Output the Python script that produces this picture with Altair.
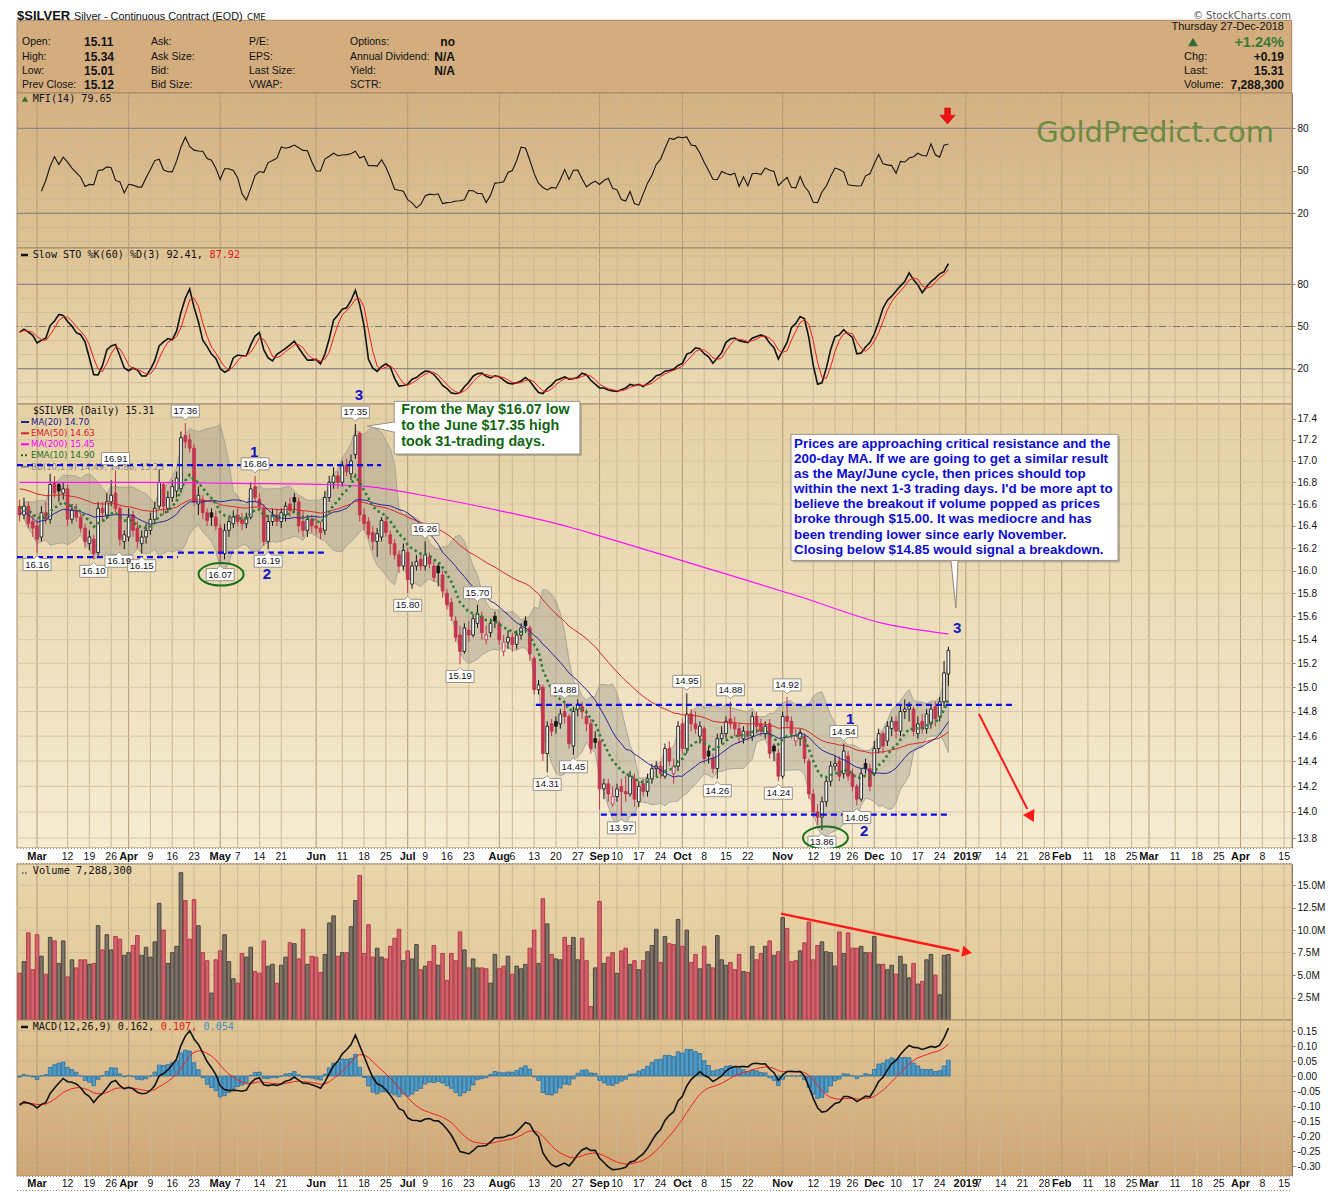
import altair as alt
import numpy as np
import pandas as pd

# ---------------- daily candles ($SILVER, from 2018-02-23) ----------------
OPEN = [16.58,16.50,16.58,16.44,16.40,16.30,16.52,16.46,16.80,16.78,
16.70,16.74,16.46,16.54,16.48,16.38,16.24,16.28,16.16,16.56,
16.50,16.62,16.70,16.56,16.26,16.30,16.50,16.38,16.24,16.30,
16.36,16.46,16.58,16.78,16.56,16.66,16.72,16.74,17.24,17.20,
17.12,16.60,16.64,16.52,16.52,16.48,16.38,16.15,16.36,16.42,
16.50,16.46,16.42,16.48,16.76,16.64,16.56,16.26,16.44,16.50,
16.44,16.50,16.60,16.66,16.62,16.44,16.36,16.46,16.40,16.38,
16.36,16.66,16.80,16.86,16.80,16.96,16.88,17.06,17.26,16.50,
16.44,16.34,16.26,16.30,16.44,16.32,16.24,16.14,16.04,16.16,
15.88,16.04,16.10,16.04,16.12,16.04,16.04,15.96,15.80,15.72,
15.56,15.44,15.30,15.48,15.44,15.54,15.60,15.40,15.46,15.60,
15.54,15.30,15.38,15.42,15.36,15.44,15.56,15.50,15.24,14.98,
15.00,14.46,14.70,14.72,14.70,14.80,14.76,14.52,14.82,14.84,
14.76,14.70,14.58,14.56,14.18,14.22,14.06,14.12,14.20,14.16,
14.14,14.26,14.08,14.22,14.16,14.26,14.34,14.36,14.28,14.50,
14.30,14.36,14.70,14.50,14.78,14.70,14.60,14.66,14.48,14.42,
14.34,14.58,14.62,14.74,14.70,14.66,14.58,14.64,14.60,14.76,
14.70,14.62,14.70,14.52,14.46,14.28,14.76,14.72,14.56,14.58,
14.60,14.40,14.14,14.00,13.96,14.08,14.24,14.36,14.40,14.30,
14.44,14.30,14.20,14.10,14.38,14.34,14.30,14.50,14.62,14.56,
14.66,14.72,14.64,14.80,14.82,14.82,14.62,14.72,14.66,14.70,
14.84,14.76,14.88,15.11]
HIGH = [16.64,16.66,16.62,16.50,16.46,16.58,16.62,16.88,16.86,16.80,
16.80,16.78,16.60,16.60,16.52,16.42,16.36,16.32,16.62,16.62,
16.70,16.82,16.91,16.58,16.36,16.56,16.54,16.44,16.36,16.42,
16.52,16.62,16.92,16.80,16.72,16.82,16.90,17.28,17.36,17.26,
17.16,16.76,16.68,16.56,16.56,16.54,16.42,16.42,16.48,16.54,
16.56,16.52,16.52,16.80,16.86,16.70,16.60,16.50,16.56,16.56,
16.56,16.62,16.66,16.70,16.66,16.54,16.50,16.50,16.48,16.44,
16.72,16.86,16.94,16.90,17.00,17.02,17.06,17.35,17.28,16.56,
16.48,16.40,16.38,16.48,16.50,16.36,16.28,16.18,16.24,16.20,
16.08,16.14,16.16,16.26,16.16,16.08,16.06,16.00,15.84,15.76,
15.60,15.52,15.54,15.56,15.62,15.70,15.64,15.52,15.58,15.64,
15.56,15.44,15.48,15.46,15.48,15.54,15.60,15.52,15.26,15.06,
15.02,14.72,14.74,14.76,14.82,14.88,14.78,14.84,14.90,14.88,
14.82,14.74,14.64,14.58,14.26,14.26,14.20,14.22,14.26,14.28,
14.32,14.30,14.24,14.26,14.30,14.38,14.40,14.40,14.54,14.56,
14.42,14.72,14.74,14.95,14.82,14.80,14.72,14.68,14.52,14.46,
14.62,14.68,14.76,14.88,14.76,14.70,14.68,14.70,14.80,14.80,
14.74,14.72,14.74,14.54,14.50,14.80,14.92,14.76,14.66,14.66,
14.62,14.42,14.18,14.06,14.12,14.28,14.40,14.44,14.44,14.54,
14.48,14.34,14.22,14.34,14.42,14.38,14.56,14.66,14.64,14.72,
14.76,14.76,14.86,14.90,14.88,14.84,14.76,14.78,14.82,14.86,
14.88,14.92,15.22,15.34]
LOW = [16.44,16.46,16.38,16.30,16.16,16.26,16.42,16.42,16.66,16.62,
16.64,16.40,16.42,16.44,16.34,16.20,16.18,16.10,16.13,16.44,
16.46,16.58,16.52,16.22,16.19,16.26,16.30,16.20,16.15,16.24,
16.32,16.42,16.55,16.50,16.52,16.62,16.66,16.70,17.12,17.08,
16.58,16.50,16.46,16.40,16.40,16.36,16.07,16.10,16.30,16.38,
16.40,16.36,16.38,16.46,16.62,16.54,16.22,16.19,16.40,16.40,
16.38,16.44,16.48,16.52,16.34,16.30,16.30,16.34,16.32,16.28,
16.32,16.62,16.74,16.74,16.76,16.86,16.82,17.02,16.44,16.36,
16.28,16.18,16.12,16.26,16.30,16.14,16.10,15.98,16.00,15.80,
15.84,16.00,16.00,16.00,16.02,15.90,15.86,15.76,15.66,15.56,
15.38,15.19,15.28,15.38,15.42,15.50,15.40,15.36,15.42,15.50,
15.36,15.26,15.32,15.30,15.32,15.40,15.46,15.22,14.94,14.94,
14.40,14.31,14.60,14.62,14.66,14.70,14.50,14.45,14.76,14.74,
14.64,14.46,14.50,14.02,14.10,14.08,14.04,14.08,13.97,14.08,
14.12,14.04,14.04,14.12,14.12,14.22,14.28,14.26,14.26,14.36,
14.22,14.32,14.46,14.46,14.64,14.62,14.54,14.38,14.38,14.30,
14.26,14.54,14.58,14.66,14.60,14.54,14.54,14.56,14.56,14.62,
14.60,14.58,14.42,14.40,14.24,14.26,14.66,14.58,14.52,14.52,
14.38,14.10,13.96,13.90,13.86,14.04,14.20,14.32,14.24,14.26,
14.24,14.16,14.05,14.08,14.30,14.16,14.28,14.46,14.46,14.52,
14.60,14.58,14.60,14.74,14.72,14.60,14.58,14.62,14.62,14.66,
14.68,14.72,14.84,15.01]
CLOSE = [16.50,16.58,16.42,16.38,16.28,16.52,16.46,16.78,16.70,16.72,
16.74,16.46,16.54,16.48,16.38,16.26,16.30,16.15,16.56,16.52,
16.62,16.68,16.56,16.28,16.32,16.48,16.36,16.26,16.30,16.36,
16.46,16.56,16.80,16.58,16.66,16.76,16.84,17.22,17.18,17.12,
16.62,16.68,16.52,16.45,16.48,16.40,16.15,16.36,16.44,16.48,
16.44,16.42,16.48,16.74,16.66,16.58,16.26,16.44,16.50,16.44,
16.52,16.58,16.54,16.62,16.40,16.36,16.46,16.40,16.38,16.34,
16.66,16.80,16.86,16.80,16.96,16.90,17.00,17.24,16.50,16.42,
16.32,16.26,16.33,16.45,16.34,16.24,16.14,16.04,16.18,15.92,
16.04,16.08,16.04,16.14,16.06,15.94,15.98,15.82,15.70,15.60,
15.42,15.30,15.50,15.44,15.58,15.62,15.46,15.44,15.54,15.56,
15.40,15.38,15.42,15.36,15.44,15.50,15.52,15.28,14.98,15.02,
14.46,14.68,14.64,14.68,14.78,14.76,14.54,14.80,14.86,14.80,
14.70,14.50,14.55,14.18,14.22,14.14,14.12,14.18,14.16,14.14,
14.28,14.10,14.20,14.16,14.26,14.34,14.36,14.30,14.50,14.40,
14.36,14.68,14.50,14.78,14.70,14.66,14.68,14.42,14.44,14.34,
14.58,14.62,14.72,14.70,14.66,14.60,14.64,14.60,14.76,14.68,
14.64,14.68,14.46,14.48,14.28,14.76,14.72,14.62,14.60,14.63,
14.42,14.14,14.00,13.96,14.08,14.24,14.36,14.38,14.28,14.48,
14.28,14.20,14.10,14.30,14.34,14.20,14.50,14.62,14.52,14.68,
14.72,14.64,14.80,14.82,14.84,14.64,14.70,14.66,14.78,14.82,
14.74,14.88,15.12,15.31]
VOLUME_M = [5.2,6.5,9.7,5.6,9.5,7.1,5.1,9.2,8.8,6.3,
8.8,4.8,6.7,5.8,6.7,6.7,6.2,6.3,10.5,7.8,
9.5,7.8,9.3,9.0,7.2,7.5,8.3,9.4,7.2,8.1,
7.0,8.7,13.0,10.0,6.3,7.5,8.2,16.4,13.3,9.0,
13.4,10.5,7.5,6.6,3.0,6.7,7.7,9.5,6.5,4.6,
4.1,7.4,7.0,8.1,5.4,5.2,8.8,6.0,6.2,4.1,
6.1,7.0,8.6,8.5,6.8,10.1,6.2,7.1,7.0,5.3,
7.3,10.8,11.6,7.1,7.5,7.5,10.4,13.3,16.1,7.4,
10.6,7.0,8.0,7.0,6.8,8.2,9.1,10.1,6.6,7.7,
6.8,8.4,5.6,6.0,6.5,8.3,6.1,7.4,4.4,7.4,
6.6,9.8,7.8,5.8,6.8,5.8,5.8,5.7,4.1,7.3,
5.7,6.0,7.1,5.1,6.0,5.7,6.2,8.0,10.0,6.3,
13.5,10.7,7.3,6.8,6.7,9.2,8.3,9.2,6.7,9.1,
6.6,1.5,5.8,13.2,6.3,7.0,7.5,5.2,7.7,8.0,
6.2,6.6,5.6,6.6,7.6,8.3,10.1,6.4,9.3,8.5,
8.4,11.2,8.2,10.0,6.4,7.3,5.7,8.2,6.2,5.8,
9.4,6.7,6.1,6.4,5.6,7.3,5.4,5.3,8.2,6.7,
7.4,8.2,8.8,7.2,7.6,11.4,10.2,6.5,6.6,7.7,
8.6,10.9,6.7,8.3,8.7,7.6,7.5,6.0,9.8,7.4,
9.7,8.0,8.0,8.2,7.5,7.5,9.3,6.2,6.2,5.6,
6.1,5.1,7.1,6.2,4.7,6.3,4.0,4.3,6.7,7.3,
5.0,2.8,7.2,7.2883]

FIRST_DAY = "2018-02-23"
LAST_AXIS_DAY = "2019-04-30"
HOLIDAYS = ["2018-03-30", "2018-05-28", "2018-07-04", "2018-09-03", "2018-11-22", "2018-12-25"]

# 200-day MA
MA200_DATES = ["2018-02-23", "2018-04-09", "2018-05-07", "2018-06-05", "2018-06-19", "2018-07-11",
               "2018-08-01", "2018-08-23", "2018-09-04", "2018-10-05", "2018-11-07", "2018-12-05", "2018-12-27"]
MA200_VALUES = [16.80, 16.80, 16.79, 16.78, 16.76, 16.66, 16.54, 16.39, 16.31, 16.04, 15.77, 15.54, 15.45]

# starting levels of the averages, read at the left edge of the picture
EMA10_SEED = 16.58
EMA50_SEED = 16.75
EMA12_SEED = 16.55
EMA26_SEED = 16.65
SIGNAL_SEED = -0.092
# high / low of the 60-day look-back that lie before the first candle (read from the STO level)
STO_PRIOR_HIGH = 17.50
STO_PRIOR_HIGH_UNTIL = "2018-04-20"
STO_PRIOR_LOW = 15.65
STO_PRIOR_LOW_UNTIL = "2018-03-16"

TICK_DATES = ["2018-03-01", "2018-03-12", "2018-03-19", "2018-03-26", "2018-04-02", "2018-04-09", "2018-04-16",
              "2018-04-23", "2018-05-01", "2018-05-07", "2018-05-14", "2018-05-21", "2018-06-01", "2018-06-11",
              "2018-06-18", "2018-06-25", "2018-07-02", "2018-07-09", "2018-07-16", "2018-07-23", "2018-08-01",
              "2018-08-06", "2018-08-13", "2018-08-20", "2018-08-27", "2018-09-04", "2018-09-10", "2018-09-17",
              "2018-09-24", "2018-10-01", "2018-10-08", "2018-10-15", "2018-10-22", "2018-11-01", "2018-11-12",
              "2018-11-19", "2018-11-26", "2018-12-03", "2018-12-10", "2018-12-17", "2018-12-24", "2019-01-02",
              "2019-01-07", "2019-01-14", "2019-01-21", "2019-01-28", "2019-02-01", "2019-02-11", "2019-02-18",
              "2019-02-25", "2019-03-01", "2019-03-11", "2019-03-18", "2019-03-25", "2019-04-01", "2019-04-08",
              "2019-04-15"]
TICK_LABELS = ["Mar", "12", "19", "26", "Apr", "9", "16", "23", "May", "7", "14", "21", "Jun", "11", "18", "25",
               "Jul", "9", "16", "23", "Aug", "6", "13", "20", "27", "Sep", "10", "17", "24", "Oct", "8", "15", "22",
               "Nov", "12", "19", "26", "Dec", "10", "17", "24", "2019", "7", "14", "21", "28", "Feb", "11", "18",
               "25", "Mar", "11", "18", "25", "Apr", "8", "15"]
MONTH_LABELS = ["Mar", "Apr", "May", "Jun", "Jul", "Aug", "Sep", "Oct", "Nov", "Dec", "2019", "Feb"]

CALLOUT_DATES = ["2018-03-01", "2018-03-20", "2018-03-27", "2018-03-29", "2018-04-05", "2018-04-19", "2018-05-01",
                 "2018-05-11", "2018-05-16", "2018-06-14", "2018-07-02", "2018-07-09", "2018-07-19", "2018-07-25",
                 "2018-08-16", "2018-08-22", "2018-08-24", "2018-09-11", "2018-10-02", "2018-10-11", "2018-10-16",
                 "2018-10-31", "2018-11-02", "2018-11-14", "2018-11-21", "2018-11-27"]
CALLOUT_KIND = ["L", "L", "H", "L", "L", "H", "L", "H", "L", "H", "L", "H", "L", "H", "L", "H", "L", "L", "H",
                "L", "H", "L", "H", "L", "H", "L"]
# sideways nudge (in trading days) of a price label so that it does not cover its neighbour
CALLOUT_NUDGE = {"2018-03-29": -1.2}

BOX1_LINES = ["From the May $16.07 low", "to the June $17.35 high", "took 31-trading days."]
BOX2_LINES = ["Prices are approaching critical resistance and the",
              "200-day MA. If we are going to get a similar result",
              "as the May/June cycle, then prices should top",
              "within the next 1-3 trading days. I'd be more apt to",
              "believe the breakout if volume popped as prices",
              "broke through $15.00. It was mediocre and has",
              "been trending lower since early November.",
              "Closing below $14.85 would signal a breakdown."]

# ---------------- calendar & indicators ----------------
cal = pd.bdate_range(FIRST_DAY, LAST_AXIS_DAY)
cal = cal[~cal.isin(pd.to_datetime(HOLIDAYS))]
day_index = {d.strftime("%Y-%m-%d"): k for k, d in enumerate(cal)}

n = len(CLOSE)
df = pd.DataFrame({"i": np.arange(n), "O": OPEN, "H": HIGH, "L": LOW, "C": CLOSE, "V": VOLUME_M})
prev = df["C"].shift(1).fillna(df["O"])
up = df["C"] >= prev
RED = "#c4344e"
BLK = "#161616"
df["line"] = np.where(up, BLK, RED)
df["body"] = np.where(df["C"] > df["O"], "#ffffff", df["line"])
df["bt"] = df[["O", "C"]].max(axis=1)
df["bb"] = np.minimum(df[["O", "C"]].min(axis=1), df["bt"] - 0.006)
df["x0"] = df["i"] - 0.31
df["x1"] = df["i"] + 0.31
df["vx0"] = df["i"] - 0.41
df["vx1"] = df["i"] + 0.41
df["vfill"] = np.where(up, "#7c7369", "#d0646c")
df["vstroke"] = np.where(up, "#4f463e", "#b23a4a")


def ema(vals, span, seed):
    a = 2.0 / (span + 1.0)
    out, e = [], seed
    for v in vals:
        e = e + a * (v - e)
        out.append(e)
    return np.array(out)


c = df["C"].to_numpy()
df["ma20"] = df["C"].rolling(20, min_periods=1).mean()
df["ema10"] = ema(c, 10, EMA10_SEED)
df["ema50"] = ema(c, 50, EMA50_SEED)
m10 = df["C"].rolling(10, min_periods=2).mean()
s10 = df["C"].rolling(10, min_periods=2).std(ddof=0)
df["bbm"] = m10
df["bbu"] = m10 + 1.9 * s10
df["bbl"] = m10 - 1.9 * s10
macd = ema(c, 12, EMA12_SEED) - ema(c, 26, EMA26_SEED)
sig = ema(macd, 9, SIGNAL_SEED)
df["macd"] = macd
df["sig"] = sig
df["hist"] = macd - sig
tp = (df["H"] + df["L"] + df["C"]) / 3.0
rmf = tp * df["V"]
dtp = tp.diff()
ps = rmf.where(dtp > 0, 0.0).rolling(14, min_periods=6).sum()
ns = rmf.where(dtp < 0, 0.0).rolling(14, min_periods=6).sum()
df["mfi"] = 100 - 100 / (1 + ps / ns.replace(0, np.nan))
ll = df["L"].rolling(60, min_periods=1).min()
hh = df["H"].rolling(60, min_periods=1).max()
hh = np.where(df["i"] <= day_index[STO_PRIOR_HIGH_UNTIL], np.maximum(hh, STO_PRIOR_HIGH), hh)
ll = np.where(df["i"] <= day_index[STO_PRIOR_LOW_UNTIL], np.minimum(ll, STO_PRIOR_LOW), ll)
fk = pd.Series(100 * (df["C"].to_numpy() - ll) / (hh - ll))
df["sk"] = fk.rolling(3, min_periods=1).mean()
df["sd"] = df["sk"].rolling(3, min_periods=1).mean()

ticks = pd.DataFrame({"i": [day_index[d] for d in TICK_DATES], "lab": TICK_LABELS})
ticks["month"] = ticks["lab"].isin(MONTH_LABELS)
ticks["gcol"] = np.where(ticks["month"], "#b39a77", "#cdb793")

ma200 = pd.DataFrame({"i": [day_index[d] for d in MA200_DATES], "v": MA200_VALUES})

co = pd.DataFrame({"date": CALLOUT_DATES, "i": [day_index[d] for d in CALLOUT_DATES], "kind": CALLOUT_KIND})
co["p"] = [HIGH[k] if kd == "H" else LOW[k] for k, kd in zip(co["i"], co["kind"])]
co["txt"] = co["p"].map(lambda v: f"{v:.2f}")
co["ix"] = co["i"] + co["date"].map(lambda d: CALLOUT_NUDGE.get(d, 0.0))

# ---------------- helpers ----------------
W = 1275
XS = alt.Scale(domain=[-0.6, 291.8], nice=False, zero=False)
ONE = pd.DataFrame({"k": [0]})


def xq(f):
    return alt.X(f"{f}:Q", scale=XS, axis=None)


def rax(values, expr):
    return alt.Axis(orient="right", values=values, labelExpr=expr, title=None, grid=False, ticks=True,
                    tickSize=3, tickColor="#8b7556", domain=True, domainColor="#8b7556",
                    labelFont="Liberation Sans", labelFontSize=10, labelColor="#111111", labelPadding=2,
                    labelFlush=False, labelOverlap=False)


def bg(h, c1, c2, stroke="#a38868"):
    grad = {"gradient": "linear", "x1": 0, "y1": 0, "x2": 0, "y2": 1,
            "stops": [{"offset": 0, "color": c1}, {"offset": 1, "color": c2}]}
    return alt.Chart(ONE).mark_rect(fill=grad, stroke=stroke, strokeWidth=1).encode(
        x=alt.value(0), x2=alt.value(W), y=alt.value(0), y2=alt.value(h))


def vgrid():
    return alt.Chart(ticks).mark_rule(strokeWidth=1).encode(x=xq("i"), color=alt.Color("gcol:N", scale=None))


def hrules(vals, ysc, ax, color, dash=None, width=1.0):
    kw = {"color": color, "strokeWidth": width}
    if dash:
        kw["strokeDash"] = dash
    return alt.Chart(pd.DataFrame({"v": vals})).mark_rule(**kw).encode(y=alt.Y("v:Q", scale=ysc, axis=ax))


def txt(x, y, s, color="#111111", size=10.1, font="DejaVu Sans Mono", weight="normal", align="left",
        baseline="middle"):
    return alt.Chart(ONE).mark_text(align=align, baseline=baseline, font=font, fontSize=size, color=color,
                                    fontWeight=weight).encode(x=alt.value(x), y=alt.value(y), text=alt.value(s))


def seg(x0, x1, y, color="#111111", width=2.0, dash=None):
    kw = {"color": color, "strokeWidth": width}
    if dash:
        kw["strokeDash"] = dash
    return alt.Chart(ONE).mark_rule(**kw).encode(x=alt.value(x0), x2=alt.value(x1), y=alt.value(y))


# ---------------- header ----------------
HDR_H = 84
ROWS = [33, 47.5, 62, 76]
hdr = [
    alt.Chart(ONE).mark_rect(fill="#d3ad7e", stroke="#a3876a", strokeWidth=1).encode(
        x=alt.value(0), x2=alt.value(1274.7), y=alt.value(11.3), y2=alt.value(HDR_H)),
    txt(0, 10.5, "$SILVER", size=13, font="Liberation Sans", weight="bold", baseline="alphabetic"),
    txt(57, 10.5, "Silver - Continuous Contract (EOD)", size=10.8, font="Liberation Sans", baseline="alphabetic"),
    txt(230, 10.5, "CME", size=8.5, font="DejaVu Sans", baseline="alphabetic"),
    txt(1274, 9.5, "\u00a9 StockCharts.com", size=10, font="DejaVu Sans", color="#555555", align="right",
        baseline="alphabetic"),
    txt(1267, 18, "Thursday  27-Dec-2018", size=11, font="Liberation Sans", align="right"),
    txt(1267, 33.5, "+1.24%", size=14.5, font="Liberation Sans", weight="bold", color="#3b7a3b", align="right"),
    alt.Chart(ONE).mark_point(shape="triangle-up", size=95, filled=True, color="#2f6a36", opacity=1).encode(
        x=alt.value(1176), y=alt.value(33)),
]
for x, labels in [(5, ["Open:", "High:", "Low:", "Prev Close:"]), (134, ["Ask:", "Ask Size:", "Bid:", "Bid Size:"]),
                  (232, ["P/E:", "EPS:", "Last Size:", "VWAP:"]),
                  (333, ["Options:", "Annual Dividend:", "Yield:", "SCTR:"])]:
    for y, s in zip(ROWS, labels):
        hdr.append(txt(x, y, s, size=10.5, font="Liberation Sans"))
for y, s in zip(ROWS, ["15.11", "15.34", "15.01", "15.12"]):
    hdr.append(txt(67, y, s, size=12, font="Liberation Sans", weight="bold"))
for y, s in zip(ROWS, ["no", "N/A", "N/A"]):
    hdr.append(txt(438, y, s, size=12, font="Liberation Sans", weight="bold", align="right"))
for y, s, v in zip(ROWS[1:], ["Chg:", "Last:", "Volume:"], ["+0.19", "15.31", "7,288,300"]):
    hdr.append(txt(1167, y, s, size=11, font="Liberation Sans"))
    hdr.append(txt(1267, y, v, size=12, font="Liberation Sans", weight="bold", align="right"))
header = alt.layer(*hdr).properties(width=W, height=HDR_H)

# ---------------- MFI ----------------
MFI_H = 155
MY = alt.Scale(domain=[-4.5, 104.9], nice=False, zero=False)
MAX = rax([20, 50, 80], "format(datum.value, 'd')")
ARROW_DOWN = "M-0.36,-1 L0.36,-1 L0.36,-0.1 L0.95,-0.1 L0,1 L-0.95,-0.1 L-0.36,-0.1 Z"
mfi = alt.layer(
    bg(MFI_H, "#d4b183", "#dec394"),
    vgrid(),
    hrules(list(range(0, 101, 10)), MY, MAX, "#cdb793"),
    hrules([20, 80], MY, MAX, "#7c7a80"),
    alt.Chart(df).mark_line(color="#141414", strokeWidth=1.1).encode(x=xq("i"), y=alt.Y("mfi:Q", scale=MY, axis=MAX)),
    txt(1257, 49, "GoldPredict.com", size=29, font="DejaVu Sans", color="#6c8a42", align="right",
        baseline="alphabetic"),
    alt.Chart(ONE).mark_point(shape="triangle-up", size=40, filled=True, color="#3d6b2d", opacity=1).encode(
        x=alt.value(8), y=alt.value(6)),
    txt(15.7, 6, "MFI(14) 79.65"),
    alt.Chart(pd.DataFrame({"i": [212.8], "v": [88.7]})).mark_point(
        shape=ARROW_DOWN, size=260, filled=True, fill="#ee1111", stroke="#c80000", strokeWidth=0.5, opacity=1
    ).encode(x=xq("i"), y=alt.Y("v:Q", scale=MY, axis=MAX)),
).properties(width=W, height=MFI_H)

# ---------------- Slow STO ----------------
STO_H = 156
SY = alt.Scale(domain=[-5.1, 105.8], nice=False, zero=False)
SAX = rax([20, 50, 80], "format(datum.value, 'd')")
sto = alt.layer(
    bg(STO_H, "#dec394", "#ebdcb6"),
    vgrid(),
    hrules(list(range(0, 101, 10)), SY, SAX, "#d2bd98"),
    hrules([20, 80], SY, SAX, "#7c7a80"),
    hrules([50], SY, SAX, "#77736c", dash=[7, 3, 1, 3]),
    alt.Chart(df).mark_line(color="#111111", strokeWidth=1.6).encode(x=xq("i"), y=alt.Y("sk:Q", scale=SY, axis=SAX)),
    alt.Chart(df).mark_line(color="#ee1c1c", strokeWidth=1.0).encode(x=xq("i"), y=alt.Y("sd:Q", scale=SY, axis=SAX)),
    seg(4, 11, 7, width=2.5),
    txt(15.7, 7, "Slow STO %K(60) %D(3) 92.41,"),
    txt(15.7 + 29 * 6.1, 7, "87.92", color="#e01818"),
    alt.Chart(pd.DataFrame({"i": [77.8], "v": [1.1], "t": ["3"]})).mark_text(
        font="Liberation Sans", fontSize=15, fontWeight="bold", color="#1515c8", baseline="middle"
    ).encode(x=xq("i"), y=alt.Y("v:Q", scale=SY, axis=SAX), text="t:N"),
).properties(width=W, height=STO_H)

# ---------------- price ----------------
P_H = 444
PY = alt.Scale(type="log", domain=[13.724, 17.544], nice=False, zero=False)
PRICE_TICKS = [13.8, 14.0, 14.2, 14.4, 14.6, 14.8, 15.0, 15.2, 15.4, 15.6, 15.8, 16.0, 16.2, 16.4, 16.6,
               16.8, 17.0, 17.2, 17.4]
PAX = rax(PRICE_TICKS, "format(datum.value, '.1f')")


def py(f):
    return alt.Y(f"{f}:Q", scale=PY, axis=PAX)


H_PATH = "M-1,-0.43 L1,-0.43 L1,0.43 L0.21,0.43 L0,0.64 L-0.21,0.43 L-1,0.43 Z"
L_PATH = "M-1,0.43 L1,0.43 L1,-0.43 L0.21,-0.43 L0,-0.64 L-0.21,-0.43 L-1,-0.43 Z"
ELL = "M-1,0 A1,0.5 0 1,0 1,0 A1,0.5 0 1,0 -1,0 Z"


def callouts(sub, path, off):
    box = alt.Chart(sub).mark_point(shape=path, size=784, filled=True, fill="#ffffff", stroke="#9b9183",
                                    strokeWidth=1, opacity=1, yOffset=off).encode(x=xq("ix"), y=py("p"))
    t = alt.Chart(sub).mark_text(font="Liberation Sans", fontSize=9.5, color="#111111", dy=off,
                                 baseline="middle").encode(x=xq("ix"), y=py("p"), text="txt:N")
    return [box, t]


dash_df = pd.DataFrame({
    "seg": ["a", "a", "b", "b", "c", "c", "d", "d", "e", "e"],
    "i": [-0.6, 82.9, -0.6, 36.3, 36.3, 70.3, 118.4, 228.5, 133.3, 213.6],
    "p": [16.96, 16.96, 16.12, 16.12, 16.16, 16.16, 14.855, 14.855, 13.98, 13.98]})
boxes = pd.DataFrame({"x0": [85.9, 176.9], "x1": [128.5, 251.9], "p0": [17.57, 17.252], "p1": [17.065, 16.09]})
nums = pd.DataFrame({"t": ["3", "1", "2", "1", "2"], "i": [215.0, 190.5, 193.7, 53.8, 56.7],
                     "p": [15.50, 14.74, 13.85, 17.08, 15.97]})
legend_rows = [(18, "MA(20) 14.70", "#23238f", None), (29.3, "EMA(50) 14.63", "#d4202c", None),
               (40.3, "MA(200) 15.45", "#ff00ff", None), (51.3, "EMA(10) 14.90", "#1e6e1e", [2, 2]),
               (62.7, "BB(10,1.9) 14.49, 14.86, 15.23", "#8c8c86", None)]

price_layers = [
    bg(P_H, "#e5d1a5", "#f6ecd2"),
    vgrid(),
    hrules(PRICE_TICKS, PY, PAX, "#d8c6a2"),
    alt.Chart(df).mark_area(fill="#8c8b80", fillOpacity=0.34, stroke="#9b9a90", strokeWidth=0.8).encode(
        x=xq("i"), y=py("bbl"), y2="bbu:Q"),
    alt.Chart(df).mark_line(color="#b6b4aa", strokeWidth=1, strokeDash=[2, 2]).encode(x=xq("i"), y=py("bbm")),
    alt.Chart(df).mark_rule(strokeWidth=1).encode(x=xq("i"), y=py("L"), y2="H:Q",
                                                   color=alt.Color("line:N", scale=None)),
    alt.Chart(df).mark_rect(strokeWidth=0.9).encode(x=xq("x0"), x2="x1:Q", y=py("bb"), y2="bt:Q",
                                                     fill=alt.Fill("body:N", scale=None),
                                                     stroke=alt.Stroke("line:N", scale=None)),
    alt.Chart(ma200).mark_line(color="#ff10ff", strokeWidth=1.2, interpolate="monotone").encode(x=xq("i"), y=py("v")),
    alt.Chart(df).mark_line(color="#d42a2a", strokeWidth=1.0).encode(x=xq("i"), y=py("ema50")),
    alt.Chart(df).mark_line(color="#26269a", strokeWidth=1.0).encode(x=xq("i"), y=py("ma20")),
    alt.Chart(df).mark_line(color="#2f7d32", strokeWidth=2.6, strokeDash=[2.5, 3]).encode(x=xq("i"), y=py("ema10")),
    txt(16, 7, "$SILVER (Daily) 15.31", size=9.6),
]
for y, s, col, dsh in legend_rows:
    price_layers.append(seg(4, 12, y, color=col, width=2, dash=dsh))
    price_layers.append(txt(14, y, s, size=8.6, font="DejaVu Sans", color=col))
price_layers += [
    alt.Chart(dash_df).mark_line(color="#0b0bea", strokeWidth=2.2, strokeDash=[6, 4]).encode(
        x=xq("i"), y=py("p"), detail="seg:N"),
]
price_layers += callouts(co[co["kind"] == "H"], H_PATH, -12)
price_layers += callouts(co[co["kind"] == "L"], L_PATH, 12)
price_layers += [
    alt.Chart(pd.DataFrame({"i": [46.2, 184.8], "p": [15.967, 13.802]})).mark_point(
        shape=ELL, size=2025, filled=False, stroke="#187018", strokeWidth=2, opacity=1).encode(x=xq("i"), y=py("p")),
    alt.Chart(boxes).mark_rect(fill="#8f8a80", opacity=0.55, xOffset=2, x2Offset=2, yOffset=2, y2Offset=2).encode(
        x=xq("x0"), x2="x1:Q", y=py("p0"), y2="p1:Q"),
    alt.Chart(boxes).mark_rect(fill="#ffffff", stroke="#9b9183", strokeWidth=1).encode(
        x=xq("x0"), x2="x1:Q", y=py("p0"), y2="p1:Q"),
    alt.Chart(pd.DataFrame({"i": [82.9], "p": [17.331]})).mark_point(
        shape="M1,-0.3 L-1,0 L1,0.45", size=784, filled=True, fill="#ffffff", stroke="#9b9183", strokeWidth=1,
        opacity=1).encode(x=xq("i"), y=py("p")),
    alt.Chart(pd.DataFrame({"i": [214.4], "p": [15.877]})).mark_point(
        shape="M-0.15,-1 L0.06,1 L0.15,-1", size=2209, filled=True, fill="#ffffff", stroke="#8f867a",
        strokeWidth=1, opacity=1).encode(x=xq("i"), y=py("p")),
    alt.Chart(pd.DataFrame({"i": [87.5], "p": [17.549]})).mark_text(
        align="left", baseline="top", font="Liberation Sans", fontSize=14.3, fontWeight="bold", color="#116611",
        lineHeight=16).encode(x=xq("i"), y=py("p"), text=alt.value(BOX1_LINES)),
    alt.Chart(pd.DataFrame({"i": [177.6], "p": [17.227]})).mark_text(
        align="left", baseline="top", font="Liberation Sans", fontSize=13.4, fontWeight="bold", color="#0b0bd2",
        lineHeight=15.1).encode(x=xq("i"), y=py("p"), text=alt.value(BOX2_LINES)),
    alt.Chart(nums).mark_text(font="Liberation Sans", fontSize=15, fontWeight="bold", color="#1515c8",
                              baseline="middle").encode(x=xq("i"), y=py("p"), text="t:N"),
    alt.Chart(pd.DataFrame({"i": [220.0, 231.1], "p": [14.78, 14.023]})).mark_line(
        color="#ff1a1a", strokeWidth=2).encode(x=xq("i"), y=py("p")),
    alt.Chart(pd.DataFrame({"i": [232.0], "p": [13.961]})).mark_point(
        shape="triangle-down", size=170, filled=True, color="#ff1a1a", opacity=1, angle=333).encode(
        x=xq("i"), y=py("p")),
]
price = alt.layer(*price_layers).properties(width=W, height=P_H)


# ---------------- date rows ----------------
def dates_panel(h, yc):
    return alt.layer(
        alt.Chart(ONE).mark_rect(fill="#ffffff").encode(x=alt.value(0), x2=alt.value(W), y=alt.value(0),
                                                        y2=alt.value(h)),
        seg(0, W, 0.5, color="#a08464", width=1, dash=[1, 2]),
        seg(0, W, h - 0.5, color="#a08464", width=1, dash=[1, 2]),
        alt.Chart(ticks[~ticks["month"]]).mark_text(font="Liberation Sans", fontSize=10.5, color="#111111",
                                                     baseline="middle").encode(
            x=xq("i"), y=alt.value(yc), text="lab:N"),
        alt.Chart(ticks[ticks["month"]]).mark_text(font="Liberation Sans", fontSize=11, fontWeight="bold",
                                                    color="#111111", baseline="middle").encode(
            x=xq("i"), y=alt.value(yc), text="lab:N"),
    ).properties(width=W, height=h)


dates1 = dates_panel(16, 9)
dates2 = dates_panel(15, 7.5)

# ---------------- volume ----------------
V_H = 156
VY = alt.Scale(domain=[0, 17.37], nice=False, zero=False)
VOL_TICKS = [2.5, 5.0, 7.5, 10.0, 12.5, 15.0]
VAX = rax(VOL_TICKS, "format(datum.value, '.1f') + 'M'")
vol = alt.layer(
    bg(V_H, "#e9d6ab", "#e1c797"),
    vgrid(),
    hrules(VOL_TICKS, VY, VAX, "#d2bd98"),
    alt.Chart(df).mark_rect(strokeWidth=1).encode(x=xq("vx0"), x2="vx1:Q",
                                                   y=alt.Y("V:Q", scale=VY, axis=VAX), y2=alt.datum(0),
                                                   fill=alt.Fill("vfill:N", scale=None),
                                                   stroke=alt.Stroke("vstroke:N", scale=None)),
    seg(5, 6.5, 9, color="#4a4a4a", width=1.5),
    seg(8, 9.5, 9, color="#4a4a4a", width=1.5),
    txt(15.7, 7, "Volume 7,288,300", size=10.3),
    alt.Chart(pd.DataFrame({"i": [174.6, 215.5], "v": [11.85, 7.68]})).mark_line(
        color="#ff1a1a", strokeWidth=2.4).encode(x=xq("i"), y=alt.Y("v:Q", scale=VY, axis=VAX)),
    alt.Chart(pd.DataFrame({"i": [217.3], "v": [7.56]})).mark_point(
        shape="triangle-right", size=130, filled=True, color="#ff1a1a", opacity=1, angle=11).encode(
        x=xq("i"), y=alt.Y("v:Q", scale=VY, axis=VAX)),
).properties(width=W, height=V_H)

# ---------------- MACD ----------------
M_H = 156
DY = alt.Scale(domain=[-0.3333, 0.1867], nice=False, zero=False)
MACD_TICKS = [-0.30, -0.25, -0.20, -0.15, -0.10, -0.05, 0.0, 0.05, 0.10, 0.15]
DAX = rax(MACD_TICKS, "(datum.value < -0.0001 ? '-' : '') + format(abs(datum.value), '.2f')")
macd_panel = alt.layer(
    bg(M_H, "#e2c797", "#cea575"),
    vgrid(),
    hrules(MACD_TICKS, DY, DAX, "#c9b08a"),
    alt.Chart(df).mark_rect(fill="#4d9cc9", stroke="#2c6c98", strokeWidth=0.8).encode(
        x=xq("vx0"), x2="vx1:Q", y=alt.Y("hist:Q", scale=DY, axis=DAX), y2=alt.datum(0)),
    alt.Chart(df).mark_line(color="#ee2020", strokeWidth=1.0).encode(x=xq("i"), y=alt.Y("sig:Q", scale=DY, axis=DAX)),
    alt.Chart(df).mark_line(color="#111111", strokeWidth=1.6).encode(x=xq("i"), y=alt.Y("macd:Q", scale=DY, axis=DAX)),
    seg(4, 11, 7, width=2.5),
    txt(15.7, 7, "MACD(12,26,9) 0.162,"),
    txt(15.7 + 21 * 6.1, 7, "0.107,", color="#e01818"),
    txt(15.7 + 28 * 6.1, 7, "0.054", color="#3b8fc8"),
).properties(width=W, height=M_H)

chart = alt.vconcat(header, mfi, sto, price, dates1, vol, macd_panel, dates2, spacing=0, bounds="flush").properties(
    padding={"left": 4, "top": 0, "right": 0, "bottom": 0}, background="#ffffff"
).configure_view(stroke="transparent")

chart.save("out.html", embed_options={"renderer": "svg", "actions": False})
